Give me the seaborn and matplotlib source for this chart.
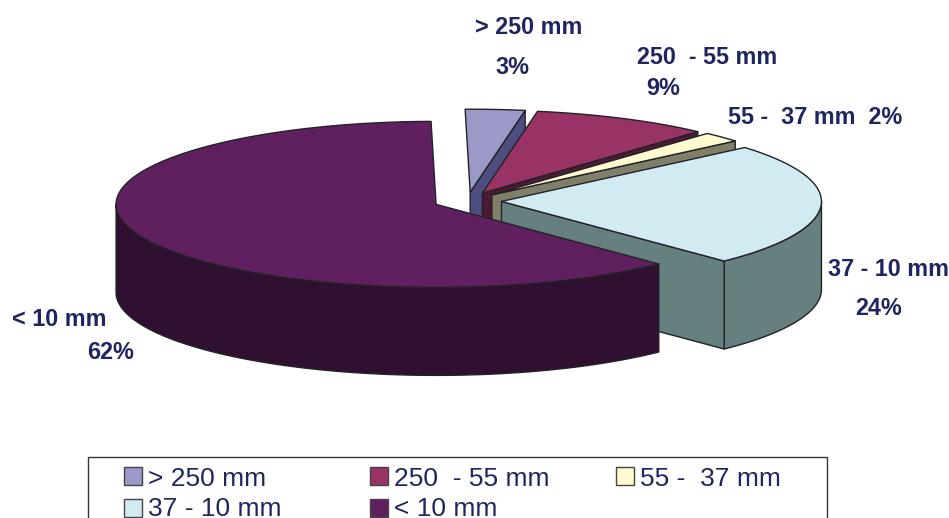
import numpy as np
import matplotlib
matplotlib.use("Agg")
import matplotlib.pyplot as plt
from matplotlib.patches import Rectangle
import seaborn as sns

# Size classes and their share of the total, clockwise from twelve o'clock
categories = ["> 250 mm", "250  - 55 mm", "55 -  37 mm", "37 - 10 mm", "< 10 mm"]
percent = [3, 9, 2, 24, 62]
top_hex = ["#9A99C7", "#993366", "#FFFBCF", "#D2EAF2", "#602060"]
side_hex = ["#4D4D80", "#4D1A33", "#80806A", "#668080", "#301030"]

# Projected pie geometry, in pixels
CX, CY = 467.5, 201.0
RX, RY = 320.0, 83.0
DEPTH = 88.0
EXPLODE = 34.0
START = -0.9
EDGE = "#222228"
TEXT = "#1F2560"

sns.set_theme(style="white")
plt.rcParams["font.family"] = ["Liberation Sans", "DejaVu Sans"]
top_colors = sns.color_palette(top_hex)
side_colors = sns.color_palette(side_hex)


def rim(cx, cy, t):
    """Point on the ellipse for an angle in degrees, clockwise from the top."""
    r = np.radians(t)
    return cx + RX * np.sin(r), cy - RY * np.cos(r)


fig = plt.figure(figsize=(9.49, 5.18), dpi=100)
ax = fig.add_axes([0, 0, 1, 1])
ax.set_xlim(0, 949)
ax.set_ylim(518, 0)
ax.set_axis_off()

edges = START + np.cumsum([0] + percent) * 3.6
for i, value in enumerate(percent):
    a0, a1 = edges[i], edges[i + 1]
    mid = np.radians((a0 + a1) / 2)
    cx = CX + EXPLODE * np.sin(mid)
    cy = CY - EXPLODE * RY / RX * np.cos(mid)

    # Outer wall, only where the rim faces the viewer
    w0, w1 = max(a0, 90), min(a1, 270)
    if w1 > w0:
        t = np.linspace(w0, w1, 120)
        x, y = rim(cx, cy, t)
        ax.fill(np.r_[x, x[::-1]], np.r_[y, y[::-1] + DEPTH],
                fc=side_colors[i], ec=EDGE, lw=1, joinstyle="round")

    # Cut face at the clockwise end of the slice
    if np.sin(np.radians(a1)) > 0:
        ox, oy = rim(cx, cy, a1)
        ax.fill([cx, ox, ox, cx], [cy, oy, oy + DEPTH, cy + DEPTH],
                fc=side_colors[i], ec=EDGE, lw=1, joinstyle="round")

    # Top face
    t = np.linspace(a0, a1, 200)
    x, y = rim(cx, cy, t)
    ax.fill(np.r_[cx, x], np.r_[cy, y],
            fc=top_colors[i], ec=EDGE, lw=1, joinstyle="round")

# Data labels
label_style = dict(color=TEXT, fontsize=16.8, fontweight="bold", va="center")
ax.text(529, 27.5, categories[0], ha="center", **label_style)
ax.text(512, 67.5, f"{percent[0]}%", ha="center", **label_style)
ax.text(707, 57.5, categories[1], ha="center", **label_style)
ax.text(663, 88.5, f"{percent[1]}%", ha="center", **label_style)
ax.text(728, 117.5, f"{categories[2]}  {percent[2]}%", ha="left", **label_style)
ax.text(828, 269.5, categories[3], ha="left", **label_style)
ax.text(879, 308.5, f"{percent[3]}%", ha="center", **label_style)
ax.text(12, 319.5, categories[4], ha="left", **label_style)
ax.text(111, 352.5, f"{percent[4]}%", ha="center", **label_style)

# Key box, running off the lower edge of the figure
ax.add_patch(Rectangle((88, 457), 739, 80, fc="white", ec="#333338", lw=1))
for i, name in enumerate(categories):
    row, col = divmod(i, 3)
    sx = 124 + 246 * col
    sy = 467 + 31.5 * row
    ax.add_patch(Rectangle((sx, sy), 18, 18, fc=top_colors[i], ec="#444444", lw=1))
    ax.text(sx + 24, sy + 12 - row, name, color=TEXT, fontsize=19, ha="left", va="center")

fig.savefig("out.png", dpi=100, facecolor="white")
